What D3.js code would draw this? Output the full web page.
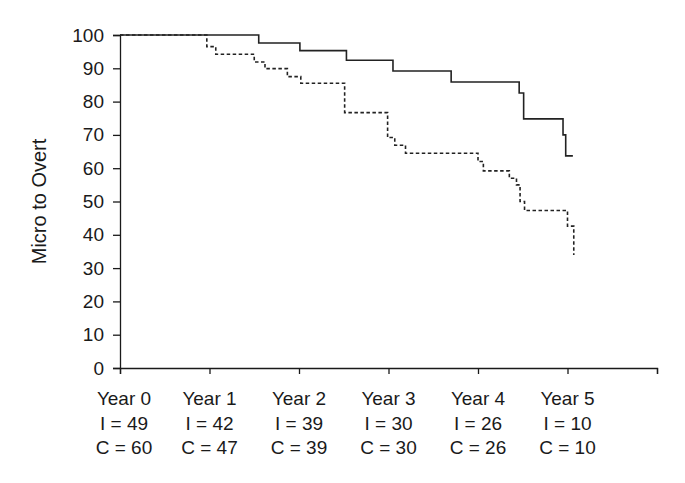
<!DOCTYPE html>
<html>
<head>
<meta charset="utf-8">
<script src="https://cdn.jsdelivr.net/npm/d3@7"></script>
<style>
  html, body { margin: 0; padding: 0; background: #fff; }
  svg text { font-family: "Liberation Sans", Arial, Helvetica, sans-serif; fill: #1a1a1a; }
</style>
</head>
<body>
<div id="chart"></div>
<script>
// Data
const yearLabels = ["Year 0", "Year 1", "Year 2", "Year 3", "Year 4", "Year 5"];
const intAtRisk = [49, 42, 39, 30, 26, 10];
const ctrlAtRisk = [60, 47, 39, 30, 26, 10];
const yTicks = [0, 10, 20, 30, 40, 50, 60, 70, 80, 90, 100];

// Solid curve (I) : time in years, % free of progression
const intTimes = [0, 1.55, 2.01, 2.53, 3.05, 3.70, 4.46, 4.51, 4.95, 4.98, 5.06];
const intSurv  = [100, 97.6, 95.3, 92.4, 89.2, 85.9, 82.6, 74.8, 70.0, 63.7, 63.7];

// Dashed curve (C)
const ctrlTimes = [0, 0.97, 1.07, 1.50, 1.62, 1.87, 2.02, 2.51, 2.99, 3.07, 3.19, 4.00, 4.06, 4.35, 4.43, 4.47, 4.52, 5.00, 5.07];
const ctrlSurv  = [100, 96.5, 94.2, 91.9, 89.9, 87.5, 85.5, 76.7, 69.2, 66.9, 64.5, 62.0, 59.2, 57.0, 55.0, 50.0, 47.3, 42.6, 33.9];

const W = 685, H = 483;
const svg = d3.select("#chart").append("svg").attr("width", W).attr("height", H);

const x = d3.scaleLinear().domain([0, 6]).range([120, 657]);
const y = d3.scaleLinear().domain([0, 100]).range([368, 35]);

const fontSize = 19;

// Y axis
const yAxis = svg.append("g").attr("transform", `translate(${x(0)},0)`)
  .call(d3.axisLeft(y).tickValues(yTicks).tickSize(7).tickPadding(9));
yAxis.select(".domain").attr("stroke", "#1a1a1a").attr("stroke-width", 1.3);
yAxis.selectAll(".tick line").attr("stroke", "#1a1a1a").attr("stroke-width", 1.3);
yAxis.selectAll(".tick text").style("font-size", fontSize + "px").attr("fill", "#1a1a1a");

// X axis
const xAxis = svg.append("g").attr("transform", `translate(0,${y(0)})`)
  .call(d3.axisBottom(x).tickValues([0, 1, 2, 3, 4, 5, 6]).tickSize(6).tickFormat(""));
xAxis.select(".domain").attr("stroke", "#1a1a1a").attr("stroke-width", 1.3);
xAxis.selectAll(".tick line").attr("stroke", "#1a1a1a").attr("stroke-width", 1.3);

// Multi-line x labels
const lab = svg.append("g");
yearLabels.forEach((t, i) => {
  const cx = x(i) + (i === 0 ? 4 : 0);
  const g = lab.append("text").attr("text-anchor", "middle").style("font-size", fontSize + "px");
  g.append("tspan").attr("x", cx).attr("y", 405).text(t);
  g.append("tspan").attr("x", cx).attr("y", 429.5).text("I = " + intAtRisk[i]);
  g.append("tspan").attr("x", cx).attr("y", 454).text("C = " + ctrlAtRisk[i]);
});

// Y axis title
svg.append("text")
  .attr("transform", `translate(46,${(y(0) + y(100)) / 2}) rotate(-90)`)
  .attr("text-anchor", "middle")
  .style("font-size", "20px")
  .text("Micro to Overt");

// Step lines
const line = d3.line().x(d => x(d[0])).y(d => y(d[1])).curve(d3.curveStepAfter);

svg.append("path")
  .datum(ctrlTimes.map((t, i) => [t, ctrlSurv[i]]))
  .attr("d", line)
  .attr("fill", "none")
  .attr("stroke", "#222")
  .attr("stroke-width", 1.6)
  .attr("stroke-dasharray", "3.5,2.5");

svg.append("path")
  .datum(intTimes.map((t, i) => [t, intSurv[i]]))
  .attr("d", line)
  .attr("fill", "none")
  .attr("stroke", "#222")
  .attr("stroke-width", 1.6);
</script>
</body>
</html>
